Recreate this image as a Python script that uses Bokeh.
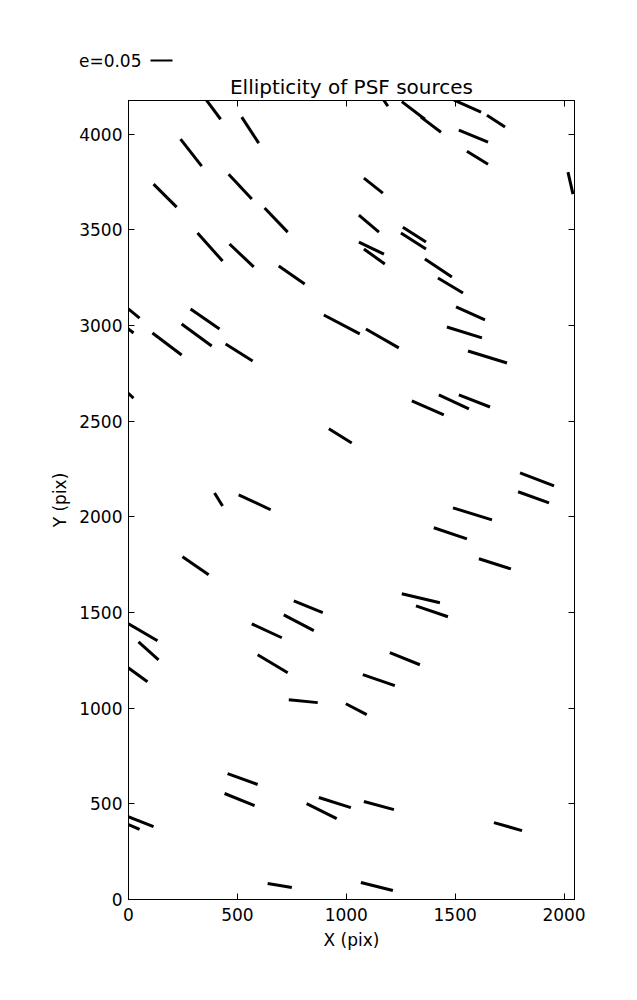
from bokeh.plotting import figure
from bokeh.models import Range1d, LinearAxis, FixedTicker, CustomJSTickFormatter
from bokeh.layouts import column
from bokeh.core.properties import value
from bokeh.embed import file_html
from bokeh.resources import INLINE

# Segment endpoints (detector pixels)
x0 = [350, 520, 239, 115, 460, 625, 317, 464, 690, 1165, 1255, 1343, 1495, 1646, 1517, 1554,
      2018, 1081, 1058, 1260, 1251, 1058, 1081, 1361, 1421, -15, -20, 285, 244, 110, 446, -15,
      897, 920, 395, 506, 1090, 1504, 1462, 1559, 1301, 1425, 1517, 1798, 1789, 248, 0, 46,
      -10, 759, 713, 566, 593, 736, 1490, 1402, 1609, 1255, 1320, 1200, 1076, 998, 455, 441,
      818, 874, -10, -15, 639, 1081, 1678, 1067]
y0 = [4190, 4089, 3974, 3739, 3791, 3614, 3483, 3426, 3311, 4190, 4170, 4089, 4178, 4099, 4021, 3911,
      3802, 3770, 3577, 3514, 3483, 3436, 3400, 3347, 3248, 3100, 3000, 3086, 3008, 2961, 2903, 2660,
      3055, 2460, 2125, 2115, 2982, 3097, 2992, 2867, 2606, 2637, 2637, 2230, 2131, 1791, 1441, 1347,
      1218, 1561, 1488, 1441, 1279, 1044, 2047, 1943, 1781, 1598, 1535, 1290, 1175, 1023, 658, 554,
      501, 533, 437, 399, 84, 512, 402, 89]
x1 = [423, 598, 336, 221, 566, 731, 432, 575, 809, 1191, 1361, 1435, 1619, 1729, 1651, 1651,
      2041, 1168, 1150, 1366, 1366, 1173, 1177, 1485, 1536, 51, 23, 418, 382, 244, 570, 23,
      1062, 1025, 432, 653, 1241, 1637, 1623, 1738, 1448, 1563, 1660, 1954, 1931, 368, 133, 138,
      87, 892, 851, 704, 731, 869, 1669, 1554, 1756, 1430, 1467, 1338, 1223, 1094, 593, 579,
      956, 1021, 115, 51, 750, 1219, 1807, 1214]
y1 = [4078, 3953, 3833, 3619, 3661, 3488, 3337, 3306, 3217, 4146, 4078, 4010, 4115, 4037, 3958, 3843,
      3687, 3692, 3488, 3436, 3400, 3373, 3321, 3253, 3170, 3039, 2961, 2982, 2893, 2846, 2815, 2621,
      2956, 2386, 2057, 2037, 2883, 3029, 2935, 2804, 2533, 2564, 2574, 2162, 2073, 1697, 1352, 1253,
      1138, 1499, 1405, 1368, 1185, 1029, 1984, 1885, 1728, 1551, 1478, 1227, 1118, 966, 601, 491,
      423, 480, 381, 366, 63, 470, 360, 47]

# Key: ellipticity shown by the reference bar, and pixels of bar per unit of e
key_e = 0.05
key_scale = 2020
key_x = 101

x_ticks = [0, 500, 1000, 1500, 2000]
y_ticks = [0, 500, 1000, 1500, 2000, 2500, 3000, 3500, 4000]

FONT = "DejaVu Sans"
XMAX, YMAX = 2048, 4176
FW, FH = 446, 799
LEFT, RIGHT = 128, 54
KEY_H = 70

# ---- key strip (same horizontal scale as the main frame) ----
upp = XMAX / FW
kf = figure(width=LEFT + FW + RIGHT, height=KEY_H, frame_width=LEFT + FW + RIGHT, frame_height=KEY_H,
            x_range=Range1d(-LEFT * upp, (FW + RIGHT) * upp), y_range=Range1d(0, KEY_H),
            output_backend="svg", toolbar_location=None,
            min_border=0, min_border_left=0, min_border_right=0, min_border_top=0, min_border_bottom=0)
kf.frame_align = False
kf.axis.visible = False
kf.grid.visible = False
kf.outline_line_color = None
kf.text(x=[key_x - 9 * upp], y=[10], text=[f"e={key_e}"], text_font=value(FONT),
        text_font_size="17px", text_align="right", text_baseline="middle", text_color="black")
kf.segment(x0=[key_x], y0=[10], x1=[key_x + key_e * key_scale], y1=[10],
           line_color="black", line_width=2)

# ---- main plot ----
p = figure(width=LEFT + FW + RIGHT, height=30 + FH + 89, frame_width=FW, frame_height=FH,
           x_range=Range1d(0, XMAX), y_range=Range1d(0, YMAX),
           output_backend="svg", toolbar_location=None,
           min_border_left=LEFT, min_border_top=30, min_border_right=RIGHT, min_border_bottom=89,
           title="Ellipticity of PSF sources")
p.frame_align = False
p.title.align = "center"
p.title.text_font = FONT
p.title.text_font_size = "20px"
p.title.text_font_style = "normal"
p.title.text_color = "black"
p.title.standoff = 4

p.grid.visible = False
p.outline_line_color = "black"
p.outline_line_width = 1

p.xaxis.ticker = FixedTicker(ticks=x_ticks)
p.yaxis.ticker = FixedTicker(ticks=y_ticks)
p.xaxis.axis_label = "X (pix)"
p.yaxis.axis_label = "Y (pix)"
for ax in (p.xaxis[0], p.yaxis[0]):
    ax.major_tick_in = 6
    ax.major_tick_out = 0
    ax.minor_tick_line_color = None
    ax.axis_line_color = "black"
    ax.major_tick_line_color = "black"
    ax.major_label_text_font = FONT
    ax.major_label_text_font_size = "17px"
    ax.major_label_text_color = "black"
    ax.axis_label_text_font = FONT
    ax.axis_label_text_font_size = "17px"
    ax.axis_label_text_font_style = "normal"
    ax.axis_label_text_color = "black"
    ax.axis_label_standoff = 6
p.xaxis[0].major_label_standoff = 8
p.yaxis[0].major_label_standoff = 6

blank = CustomJSTickFormatter(code="return ''")
top = LinearAxis(ticker=FixedTicker(ticks=x_ticks), formatter=blank,
                 major_tick_in=6, major_tick_out=0, minor_tick_line_color=None,
                 major_label_standoff=0)
right = LinearAxis(ticker=FixedTicker(ticks=y_ticks), formatter=blank,
                   major_tick_in=6, major_tick_out=0, minor_tick_line_color=None,
                   major_label_standoff=0)
p.add_layout(top, "above")
p.add_layout(right, "right")

p.segment(x0=x0, y0=y0, x1=x1, y1=y1, line_color="black", line_width=3)

layout = column(kf, p, spacing=0)
open("out.html", "w").write(file_html(layout, INLINE))
